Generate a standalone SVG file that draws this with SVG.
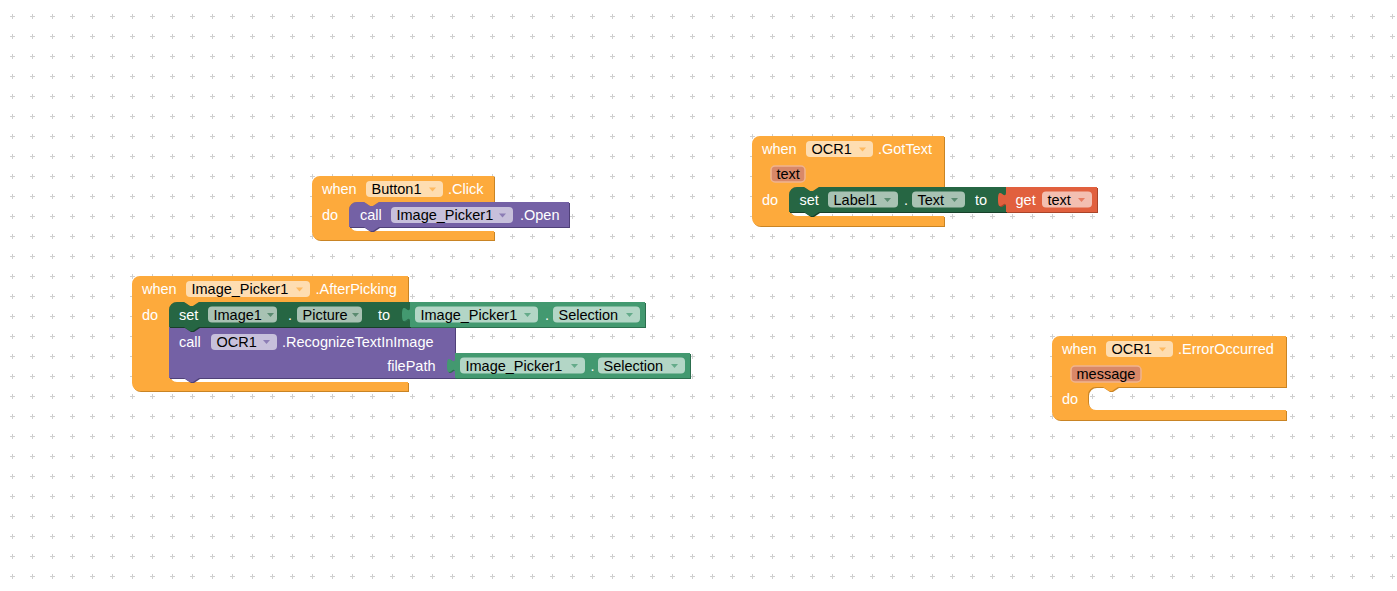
<svg xmlns="http://www.w3.org/2000/svg" xmlns:xlink="http://www.w3.org/1999/xlink" width="1397" height="591" viewBox="0 0 1397 591">
<style>
.t{font-family:"Liberation Sans",Arial,sans-serif;font-size:14.5px;fill:#fff}
.k{font-family:"Liberation Sans",Arial,sans-serif;font-size:14.5px;fill:#000}
.ch{fill:#fff;fill-opacity:.6}
.ev{fill:#FDAA3C}.evs{fill:#C98424}
.pu{fill:#7461A5}.pus{fill:#4F4078}
.dg{fill:#266643}.dgs{fill:#173F29}
.lg{fill:#439970}.lgs{fill:#2C6E4E}
.rd{fill:#E1603E}.rds{fill:#A94429}
.aev{fill:#FDAA3C;fill-opacity:.7}
.apu{fill:#7461A5;fill-opacity:.7}
.adg{fill:#266643;fill-opacity:.6}
.alg{fill:#439970;fill-opacity:.7}
.ard{fill:#E1603E;fill-opacity:.7}
.pa{fill:#D88868;stroke:#F0B48E;stroke-width:1.5}
</style>
<defs>
<pattern id="grid" x="2" y="6" width="20" height="20" patternUnits="userSpaceOnUse">
<path d="M8,10.5H13M10.5,8V13" stroke="#cfcfcf" stroke-width="1" fill="none"/>
</pattern>
<path id="b1" d="M312,184 A8,8 0 0 1 320,176 H494 V202 H379 L373,206 H370 L364,202 H357 A8,8 0 0 0 349,210 V223 A8,8 0 0 0 357,231 H494 V240 H320 A8,8 0 0 1 312,232 Z"/>
<path id="b1c" d="M349,210 A8,8 0 0 1 357,202 H364 L370,206 H373 L379,202 H569 V227 H379 L373,231 H370 L364,227 H349 Z"/>
<path id="b2" d="M132,284 A8,8 0 0 1 140,276 H408 V302 H199 L193,306 H190 L184,302 H177 A8,8 0 0 0 169,310 V374 A8,8 0 0 0 177,382 H408 V391 H140 A8,8 0 0 1 132,383 Z"/>
<path id="b2s" d="M169,310 A8,8 0 0 1 177,302 H184 L190,306 H193 L199,302 H412 V327 H199 L193,331 H190 L184,327 H169 Z"/>
<path id="b2v" d="M410,302 H645 V327 H410 V322 c0,-10 -8,8 -8,-7.5 s8,2.5 8,-7.5 Z"/>
<path id="b2c" d="M169,327 H184 L190,331 H193 L199,327 H455 V378 H199 L193,382 H190 L184,378 H169 Z"/>
<path id="b2f" d="M455,353 H690 V378 H455 V373 c0,-10 -8,8 -8,-7.5 s8,2.5 8,-7.5 Z"/>
<path id="b3" d="M752,144 A8,8 0 0 1 760,136 H944 V187 H819 L813,191 H810 L804,187 H797 A8,8 0 0 0 789,195 V208 A8,8 0 0 0 797,216 H944 V226 H760 A8,8 0 0 1 752,218 Z"/>
<path id="b3s" d="M789,195 A8,8 0 0 1 797,187 H804 L810,191 H813 L819,187 H1010 V212 H819 L813,216 H810 L804,212 H789 Z"/>
<path id="b3g" d="M1006,187 H1097 V212 H1006 V207 c0,-10 -8,8 -8,-7.5 s8,2.5 8,-7.5 Z"/>
<path id="b4" d="M1052,344 A8,8 0 0 1 1060,336 H1286 V387 H1118 L1112,391 H1109 L1103,387 H1096 A8,8 0 0 0 1088,395 V402 A8,8 0 0 0 1096,410 H1286 V420 H1060 A8,8 0 0 1 1052,412 Z"/>
<path id="arr" d="M-3.5,-2 H3.5 L0,2 Z"/>
</defs>
<rect width="1397" height="591" fill="#fff"/>
<rect width="1397" height="591" fill="url(#grid)"/>

<g id="connectors"></g>

<g id="button1-click">
<use xlink:href="#b1" class="evs" transform="translate(1,1)"/>
<use xlink:href="#b1" class="ev"/>
<text class="t" x="322" y="194">when</text>
<rect class="ch" x="366" y="181" width="77" height="16" rx="4"/>
<text class="k" x="371.5" y="194">Button1</text>
<use xlink:href="#arr" class="aev" transform="translate(432.5,189.5)"/>
<text class="t" x="448" y="194">.Click</text>
<text class="t" x="322" y="219.5">do</text>
<g id="call-open">
<use xlink:href="#b1c" class="pus" transform="translate(1,1)"/>
<use xlink:href="#b1c" class="pu"/>
<text class="t" x="360" y="220">call</text>
<rect class="ch" x="391" y="207" width="122" height="16" rx="4"/>
<text class="k" x="396.5" y="220">Image_Picker1</text>
<use xlink:href="#arr" class="apu" transform="translate(502.5,215.5)"/>
<text class="t" x="520" y="220">.Open</text>
</g>
</g>

<g id="imagepicker1-afterpicking">
<use xlink:href="#b2" class="evs" transform="translate(1,1)"/>
<use xlink:href="#b2" class="ev"/>
<text class="t" x="142" y="294">when</text>
<rect class="ch" x="186" y="281" width="124" height="16" rx="4"/>
<text class="k" x="191.5" y="294">Image_Picker1</text>
<use xlink:href="#arr" class="aev" transform="translate(299.5,289.5)"/>
<text class="t" x="315.5" y="294">.AfterPicking</text>
<text class="t" x="142" y="319.5">do</text>
<g id="call-recognize">
<use xlink:href="#b2c" class="pus" transform="translate(1,1)"/>
<use xlink:href="#b2c" class="pu"/>
<text class="t" x="179" y="346.5">call</text>
<rect class="ch" x="211" y="334" width="66" height="16" rx="4"/>
<text class="k" x="216.5" y="346.5">OCR1</text>
<use xlink:href="#arr" class="apu" transform="translate(266.5,342)"/>
<text class="t" x="282" y="346.5">.RecognizeTextInImage</text>
<text class="t" x="435.5" y="370.5" text-anchor="end">filePath</text>
</g>
<g id="set-picture">
<use xlink:href="#b2s" class="dgs" transform="translate(1,1)"/>
<use xlink:href="#b2s" class="dg"/>
<text class="t" x="179" y="319.5">set</text>
<rect class="ch" x="208" y="306.5" width="69" height="16" rx="4"/>
<text class="k" x="213.5" y="319.5">Image1</text>
<use xlink:href="#arr" class="adg" transform="translate(270.5,315)"/>
<text class="t" x="288" y="319.5">.</text>
<rect class="ch" x="297" y="306.5" width="65" height="16" rx="4"/>
<text class="k" x="302.5" y="319.5">Picture</text>
<use xlink:href="#arr" class="adg" transform="translate(355.5,315)"/>
<text class="t" x="378" y="319.5">to</text>
</g>
<g id="get-selection-1">
<use xlink:href="#b2v" class="lgs" transform="translate(1,1)"/>
<use xlink:href="#b2v" class="lg"/>
<rect class="ch" x="415" y="306.5" width="123" height="16" rx="4"/>
<text class="k" x="420.5" y="319.5">Image_Picker1</text>
<use xlink:href="#arr" class="alg" transform="translate(527.5,315)"/>
<text class="t" x="545" y="319.5">.</text>
<rect class="ch" x="553" y="306.5" width="87" height="16" rx="4"/>
<text class="k" x="558.5" y="319.5">Selection</text>
<use xlink:href="#arr" class="alg" transform="translate(629.5,315)"/>
</g>
<g id="get-selection-2">
<use xlink:href="#b2f" class="lgs" transform="translate(1,1)"/>
<use xlink:href="#b2f" class="lg"/>
<rect class="ch" x="460" y="357.5" width="125" height="16" rx="4"/>
<text class="k" x="465.5" y="370.5">Image_Picker1</text>
<use xlink:href="#arr" class="alg" transform="translate(574.5,366)"/>
<text class="t" x="590.5" y="370.5">.</text>
<rect class="ch" x="598" y="357.5" width="87" height="16" rx="4"/>
<text class="k" x="603.5" y="370.5">Selection</text>
<use xlink:href="#arr" class="alg" transform="translate(674.5,366)"/>
</g>
</g>

<g id="ocr1-gottext">
<use xlink:href="#b3" class="evs" transform="translate(1,1)"/>
<use xlink:href="#b3" class="ev"/>
<text class="t" x="762" y="154">when</text>
<rect class="ch" x="806" y="141" width="67" height="16" rx="4"/>
<text class="k" x="811.5" y="154">OCR1</text>
<use xlink:href="#arr" class="aev" transform="translate(862.5,149.5)"/>
<text class="t" x="878" y="154">.GotText</text>
<rect class="pa" x="771" y="166" width="34" height="16" rx="4"/>
<text class="k" x="776.5" y="179">text</text>
<text class="t" x="762" y="204.5">do</text>
<g id="set-label-text">
<use xlink:href="#b3s" class="dgs" transform="translate(1,1)"/>
<use xlink:href="#b3s" class="dg"/>
<text class="t" x="799.5" y="204.5">set</text>
<rect class="ch" x="828" y="191.5" width="70" height="16" rx="4"/>
<text class="k" x="833.5" y="204.5">Label1</text>
<use xlink:href="#arr" class="adg" transform="translate(887.5,200)"/>
<text class="t" x="904" y="204.5">.</text>
<rect class="ch" x="912" y="191.5" width="53" height="16" rx="4"/>
<text class="k" x="917.5" y="204.5">Text</text>
<use xlink:href="#arr" class="adg" transform="translate(954.5,200)"/>
<text class="t" x="975" y="204.5">to</text>
</g>
<g id="get-text">
<use xlink:href="#b3g" class="rds" transform="translate(1,1)"/>
<use xlink:href="#b3g" class="rd"/>
<text class="t" x="1015.5" y="204.5">get</text>
<rect class="ch" x="1042" y="191.5" width="50" height="16" rx="4"/>
<text class="k" x="1047.5" y="204.5">text</text>
<use xlink:href="#arr" class="ard" transform="translate(1081.5,200)"/>
</g>
</g>

<g id="ocr1-erroroccurred">
<use xlink:href="#b4" class="evs" transform="translate(1,1)"/>
<use xlink:href="#b4" class="ev"/>
<text class="t" x="1062" y="354">when</text>
<rect class="ch" x="1106" y="341" width="67" height="16" rx="4"/>
<text class="k" x="1111.5" y="354">OCR1</text>
<use xlink:href="#arr" class="aev" transform="translate(1162.5,349.5)"/>
<text class="t" x="1178" y="354">.ErrorOccurred</text>
<rect class="pa" x="1071" y="366" width="70" height="16" rx="4"/>
<text class="k" x="1076.5" y="379">message</text>
<text class="t" x="1062" y="404">do</text>
</g>
</svg>
